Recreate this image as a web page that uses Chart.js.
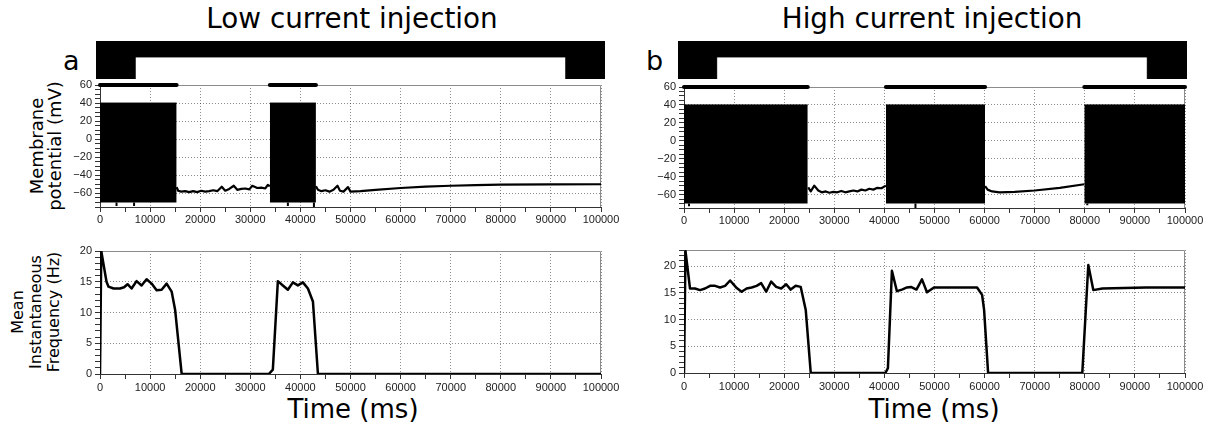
<!DOCTYPE html>
<html>
<head>
<meta charset="utf-8">
<script src="https://cdn.jsdelivr.net/npm/chart.js"></script>
<style>
  body { margin: 0; width: 1215px; height: 425px; background: #fff; position: relative; overflow: hidden;
         font-family: 'DejaVu Sans', sans-serif; color: #000; }
  canvas, .txt { position: absolute; }
  .title { font-size: 27.8px; line-height: 27.8px; white-space: nowrap; transform: translateX(-50%); }
  .xtitle { font-size: 26px; line-height: 26px; white-space: nowrap; transform: translateX(-50%); }
  .letter { font-size: 27px; line-height: 27px; }
  .ytitle { text-align: center; white-space: nowrap; transform: translate(-50%, -50%) rotate(-90deg); }
</style>
</head>
<body>
<div class="txt title" style="left:352px; top:5px">Low current injection</div>
<div class="txt title" style="left:932px; top:5px">High current injection</div>
<div class="txt letter" style="left:63px; top:47px">a</div>
<div class="txt letter" style="left:646px; top:47px">b</div>
<div class="txt ytitle" style="left:46px; top:146px; font-size:18px; line-height:18px">Membrane<br>potential (mV)</div>
<div class="txt ytitle" style="left:36px; top:312px; font-size:16px; line-height:18px">Mean<br>Instantaneous<br>Frequency (Hz)</div>
<div class="txt xtitle" style="left:353px; top:396px">Time (ms)</div>
<div class="txt xtitle" style="left:934px; top:396px">Time (ms)</div>

<canvas id="stimA"></canvas>
<canvas id="memA"></canvas>
<canvas id="freqA"></canvas>
<canvas id="stimB"></canvas>
<canvas id="memB"></canvas>
<canvas id="freqB"></canvas>

<script>
// time axis (ms)
const timeMin = 0;
const timeMax = 100000;

// stimulus: current step off / on
const stimTimesA = [0, 7700, 92300, 100000];
const stimTimesB = [0, 7600, 92200, 100000];
const stimOn = [0, 1, 0, 0];

// spike bursts [start, end] in ms
const burstsA = [[0, 15300], [33900, 43100]];
const burstsB = [[0, 24700], [40300, 60100], [79900, 100000]];
const spikePeak = 40;
const spikeTrough = -70;
const spikeClip = 60;

// deeper after-hyperpolarisations under the bursts
const troughTA = [3300, 6800, 37500, 42700];
const troughVA = [-74, -74, -74, -76];
const troughTB = [1000, 46200, 80500];
const troughVB = [-73, -75, -72];

// membrane potential between bursts (mV)
const memA1T = [15300, 15600, 16200, 17000, 17800, 18600, 19400, 20200, 21000, 21800, 22600, 23400, 24300, 25000, 25800, 26700, 27400, 28200, 29000, 29800, 30400, 31400, 32200, 33000, 33500, 33900];
const memA1V = [-53, -57, -58, -57.5, -58.5, -57.5, -58.5, -57, -58, -57.5, -56.5, -57.5, -52.5, -57, -55, -51.5, -56, -55, -54.5, -55.5, -51.5, -54, -53.5, -54.5, -50.5, -52];
const memA2T = [43100, 43500, 44200, 45000, 45800, 46600, 47400, 47900, 48600, 49500, 50000, 52000, 55000, 60000, 65000, 70000, 75000, 80000, 90000, 100000];
const memA2V = [-52, -56, -57.5, -56.5, -58, -56, -51.5, -57, -58, -53, -58, -57.5, -56, -54, -52.5, -51.5, -50.8, -50.3, -50, -49.8];
const memB1T = [24800, 25300, 26000, 26800, 27500, 28300, 29000, 29800, 30600, 31400, 32200, 33000, 33800, 34600, 35400, 36200, 37000, 37800, 38600, 39400, 40300];
const memB1V = [-52, -56.5, -50, -55.5, -57.5, -56.5, -58, -57, -57.5, -56, -57.5, -56.5, -55.5, -56.5, -54.5, -55.5, -53.5, -54.5, -52.5, -53, -50];
const memB2T = [60100, 60600, 61500, 63000, 66000, 70000, 75000, 79900];
const memB2V = [-50.5, -54.5, -56.5, -57.5, -57, -55.5, -52.5, -48.5];

// mean instantaneous frequency (Hz)
const freqAT = [0, 250, 1300, 1700, 2700, 4000, 4800, 5500, 6300, 7300, 8300, 9300, 10300, 11300, 12300, 13300, 14300, 15000, 16300, 33700, 34500, 35500, 36500, 37500, 38500, 39500, 40500, 41500, 42500, 43500, 100000];
const freqAV = [0, 20, 15.0, 14.2, 13.9, 13.9, 14.1, 14.6, 13.9, 15.1, 14.4, 15.4, 14.7, 13.6, 13.7, 14.7, 13.4, 10.4, 0, 0, 0.7, 15.1, 14.4, 13.7, 14.9, 14.4, 14.9, 13.9, 11.8, 0, 0];
const freqBT = [0, 300, 1200, 2200, 3200, 4200, 5200, 6200, 7200, 8200, 9200, 10400, 11500, 12500, 13500, 14500, 15400, 16400, 17400, 18400, 19400, 20400, 21300, 22300, 23300, 24300, 25300, 40200, 40700, 41500, 42500, 43500, 44500, 45300, 46400, 47500, 48500, 49900, 58500, 59500, 59900, 60700, 79500, 80700, 81700, 83500, 92200, 100000];
const freqBV = [0, 22.8, 15.8, 15.8, 15.5, 15.8, 16.3, 16.3, 16.0, 16.3, 17.3, 16.0, 15.2, 15.8, 16.0, 16.3, 16.8, 15.2, 17.1, 16.1, 15.8, 16.6, 15.6, 16.3, 16.1, 11.8, 0, 0, 0.9, 19.1, 15.3, 15.6, 16.0, 16.1, 15.6, 17.5, 15.1, 16.0, 16.0, 14.6, 11.8, 0, 0, 20.2, 15.5, 15.8, 16.0, 16.0];

// ---- drawing ----
Chart.defaults.font.family = "'Liberation Sans', Arial, sans-serif";
Chart.defaults.animation = false;

const gridColor = 'rgba(0,0,0,0.45)';
const axisColor = '#333';
const tickColor = '#222';

const pts = (xs, ys) => xs.map((x, i) => ({ x: x, y: ys[i] }));
const label = (v) => String(v).replace('-', '\u2212');

// gray top / right edge of the plot box
const framePlugin = {
  id: 'frame',
  beforeDatasetsDraw(chart) {
    const a = chart.chartArea;
    const ctx = chart.ctx;
    ctx.save();
    ctx.strokeStyle = '#8c8c8c';
    ctx.lineWidth = 1;
    ctx.beginPath();
    ctx.moveTo(a.left, a.top + 0.5);
    ctx.lineTo(a.right - 0.5, a.top + 0.5);
    ctx.lineTo(a.right - 0.5, a.bottom);
    ctx.stroke();
    ctx.restore();
  }
};

function place(id, left, top, width, height) {
  const c = document.getElementById(id);
  c.width = width;
  c.height = height;
  c.style.left = left + 'px';
  c.style.top = top + 'px';
  return c;
}

function axis(min, max, minor, major, fit) {
  return {
    type: 'linear', min: min, max: max,
    ticks: {
      stepSize: minor, autoSkip: false, maxRotation: 0, minRotation: 0, padding: 3,
      color: tickColor, font: { size: 11 },
      callback: (v) => (v % major === 0 ? label(v) : '')
    },
    grid: {
      color: (c) => (c.tick && c.tick.value % major === 0 ? gridColor : 'transparent'),
      tickColor: axisColor, tickLength: 5
    },
    border: { color: axisColor, dash: [1, 2] },
    afterFit: fit
  };
}

function plot(id, box, yMin, yMax, yMinor, yMajor, datasets) {
  const c = place(id, box.left, box.top, box.width, box.height);
  const xAxis = axis(timeMin, timeMax, 5000, 10000, (s) => { s.height = box.xh; });
  xAxis.ticks.padding = box.xpad;
  return new Chart(c, {
    type: 'line',
    data: { datasets: datasets },
    options: {
      responsive: false,
      layout: { padding: { top: box.pt, right: box.pr, left: 0, bottom: 0 } },
      elements: { point: { radius: 0 }, line: { tension: 0 } },
      plugins: { legend: { display: false }, tooltip: { enabled: false } },
      scales: {
        x: xAxis,
        y: axis(yMin, yMax, yMinor, yMajor, (s) => { s.width = box.yw; })
      }
    },
    plugins: [framePlugin]
  });
}

function stimulus(id, left, top, times) {
  const c = place(id, left, top, 509, 38);
  return new Chart(c, {
    type: 'line',
    data: {
      datasets: [{
        data: pts(times, stimOn),
        stepped: 'before',
        fill: 'end',
        backgroundColor: '#000',
        borderColor: '#000',
        borderWidth: 1,
        pointRadius: 0
      }]
    },
    options: {
      responsive: false,
      plugins: { legend: { display: false }, tooltip: { enabled: false } },
      scales: {
        x: { type: 'linear', display: false, min: timeMin, max: timeMax },
        y: { type: 'linear', display: false, min: 0, max: 1.72 }
      }
    }
  });
}

function burstSets(bursts, troughT, troughV) {
  const sets = [];
  bursts.forEach(([t0, t1]) => {
    sets.push({
      data: [{ x: t0, y: spikePeak }, { x: t1, y: spikePeak }],
      fill: { value: spikeTrough }, backgroundColor: '#000', borderColor: '#000', borderWidth: 1
    });
    sets.push({
      data: [{ x: t0, y: spikeClip }, { x: t1, y: spikeClip }],
      fill: false, borderColor: '#000', borderWidth: 4, borderCapStyle: 'round', clip: false
    });
  });
  troughT.forEach((t, i) => {
    sets.push({
      data: [{ x: t, y: spikeTrough }, { x: t, y: troughV[i] }],
      fill: false, borderColor: '#000', borderWidth: 2
    });
  });
  return sets;
}

function trace(xs, ys, width) {
  return { data: pts(xs, ys), fill: false, borderColor: '#000', borderWidth: width, borderJoinStyle: 'round' };
}

// panel a: low current
stimulus('stimA', 96, 41, stimTimesA);
plot('memA', { left: 0, top: 70, width: 630, height: 160, pt: 15, pr: 29, yw: 100, xh: 23, xpad: 1 },
  -75, spikeClip, 5, 20,
  burstSets(burstsA, troughTA, troughVA).concat([trace(memA1T, memA1V, 2.2), trace(memA2T, memA2V, 2.2)]));
plot('freqA', { left: 0, top: 236, width: 630, height: 160, pt: 15, pr: 29, yw: 100, xh: 22, xpad: 2 },
  0, 20, 1, 5,
  [trace(freqAT, freqAV, 2.5)]);

// panel b: high current
stimulus('stimB', 678, 41, stimTimesB);
plot('memB', { left: 620, top: 72, width: 595, height: 158, pt: 15, pr: 30, yw: 64, xh: 22, xpad: 1 },
  -75, spikeClip, 5, 20,
  burstSets(burstsB, troughTB, troughVB).concat([trace(memB1T, memB1V, 2.2), trace(memB2T, memB2V, 2.2)]));
plot('freqB', { left: 620, top: 235, width: 595, height: 160, pt: 15, pr: 30, yw: 64, xh: 22, xpad: 2 },
  0, 23, 1, 5,
  [trace(freqBT, freqBV, 2.5)]);
</script>
</body>
</html>
